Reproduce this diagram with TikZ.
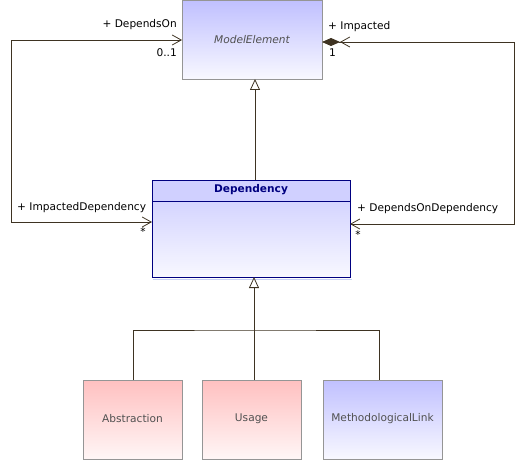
\documentclass[tikz,border=0pt]{standalone}
\usepackage{fontspec}
\setmainfont{DejaVu Sans}
\usetikzlibrary{arrows.meta}
\definecolor{lnc}{HTML}{3E3322}
\definecolor{boxgray}{HTML}{959595}
\definecolor{txtgray}{HTML}{505050}
\definecolor{navy}{HTML}{000080}
\definecolor{bluetop}{RGB}{192,192,255}
\definecolor{bluebot}{RGB}{248,248,255}
\definecolor{pinktop}{RGB}{255,192,192}
\definecolor{pinkbot}{RGB}{255,246,246}
\definecolor{deptop}{RGB}{212,212,255}
\definecolor{dephead}{RGB}{208,208,255}
\definecolor{depshadow}{RGB}{200,210,245}
\tikzset{
  conn/.style={draw=lnc, line width=0.9pt},
  barbtip/.tip={Straight Barb[length=9pt,width=10pt,line width=0.8pt]},
  gentri/.tip={Triangle[open,length=11pt,width=10pt,line width=0.8pt,fill=white]},
  bluebox/.style={draw=boxgray, line width=0.9pt, shading=axis, top color=bluetop, bottom color=bluebot},
  pinkbox/.style={draw=boxgray, line width=0.9pt, shading=axis, top color=pinktop, bottom color=pinkbot},
  boxtxt/.style={text=txtgray, font=\fontsize{10.6}{12}\selectfont},
  role/.style={text=black, font=\fontsize{10.6}{12}\selectfont, inner sep=0pt},
}
\begin{document}
\begin{tikzpicture}[x=1pt,y=-1pt]
\useasboundingbox (0,0) rectangle (525,460);
% ModelElement
\path[bluebox] (182,0.5) rectangle (322,79);
\node[boxtxt, font=\fontsize{10.6}{12}\selectfont\itshape] (me) at (252,40) {ModelElement};
\coordinate (meL) at (182,40);
\coordinate (meR) at (322,42);
\coordinate (meB) at (255,79);
% Dependency
\fill[depshadow] (153,278.5) rectangle (351.5,279);
\path[shading=axis, top color=deptop, bottom color=bluebot] (152,201) rectangle (350,277);
\fill[dephead] (152,180) rectangle (350,201);
\draw[navy, line width=0.9pt] (152,180) rectangle (350,277);
\draw[navy, line width=0.9pt] (152,201) -- (350,201);
\node[text=navy, font=\fontsize{10.6}{12}\selectfont\bfseries] (dep) at (251,190) {Dependency};
\coordinate (depL) at (152,222);
\coordinate (depR) at (350,224);
\coordinate (depT) at (255,180);
\coordinate (depB) at (254,277);
% children
\path[pinkbox] (83,380) rectangle (182,459);
\node[boxtxt] (abs) at (132.5,419) {Abstraction};
\path[pinkbox] (202,380) rectangle (301,459);
\node[boxtxt] (use) at (251.5,419) {Usage};
\path[bluebox] (323,380) rectangle (442,459);
\node[boxtxt] (mlink) at (382.5,419) {MethodologicalLink};
\coordinate (absT) at (133,380);
\coordinate (useT) at (254,380);
\coordinate (mlT) at (379,380);
% generalization ModelElement <- Dependency
\draw[conn, -{gentri}] (depT) -- (meB);
% generalization Dependency <- children
\coordinate (hub) at (254,330);
\draw[conn, -{gentri}] (useT) -- (depB);
\draw[conn] (absT) |- (hub) -| (mlT);
% DependsOn / ImpactedDependency association
\coordinate (lc1) at (11,40);
\coordinate (lc2) at (11,222);
\draw[conn, {barbtip}-{barbtip}] (meL) -- (lc1) -- (lc2) -- (depL);
% Impacted / DependsOnDependency association
\coordinate (rc1) at (514,42);
\coordinate (rc2) at (514,224);
\draw[conn, {Diamond[length=18pt,width=8pt,fill=lnc] barbtip}-{barbtip}] (meR) -- (rc1) -- (rc2) -- (depR);
% labels
\node[role, anchor=east] (l1) at (177,25) {+ DependsOn};
\node[role, anchor=east] (l2) at (177,53) {0..1};
\node[role, anchor=west] (l3) at (328,27) {+ Impacted};
\node[role, anchor=west] (l4) at (329,53) {1};
\node[role, anchor=west] (l5) at (17,208) {+ ImpactedDependency};
\node[role] (l6) at (143,232) {*};
\node[role, anchor=west] (l7) at (357,209) {+ DependsOnDependency};
\node[role] (l8) at (358,235) {*};
\end{tikzpicture}
\end{document}
